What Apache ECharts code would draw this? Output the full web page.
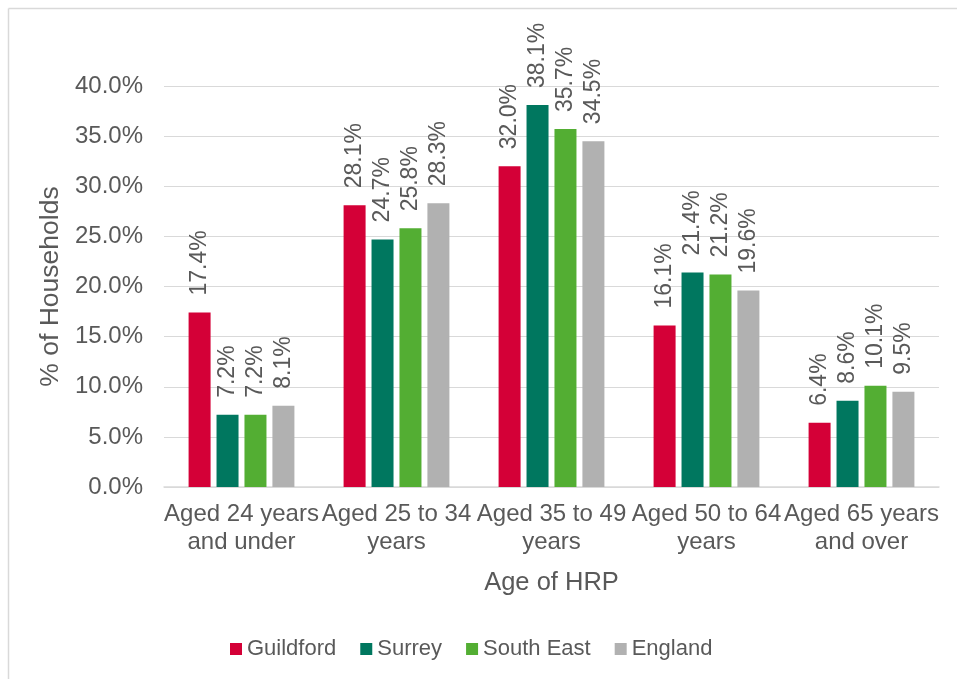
<!DOCTYPE html>
<html>
<head>
<meta charset="utf-8">
<script src="https://cdn.jsdelivr.net/npm/echarts@6/dist/echarts.min.js"></script>
<style>
html,body{margin:0;padding:0;background:#fff;}
#c{width:957px;height:679px;}
</style>
</head>
<body>
<div id="c"></div>
<script>
var categories = ['Aged 24 years\nand under', 'Aged 25 to 34\nyears', 'Aged 35 to 49\nyears', 'Aged 50 to 64\nyears', 'Aged 65 years\nand over'];
var seriesNames = ['Guildford', 'Surrey', 'South East', 'England'];
var guildford = [17.4, 28.1, 32.0, 16.1, 6.4];
var surrey = [7.2, 24.7, 38.1, 21.4, 8.6];
var southEast = [7.2, 25.8, 35.7, 21.2, 10.1];
var england = [8.1, 28.3, 34.5, 19.6, 9.5];
var yTicks = [0, 5, 10, 15, 20, 25, 30, 35, 40];

var colors = ['#D40037', '#00775F', '#53AE33', '#B1B1B1'];
var values = [guildford, surrey, southEast, england];
var textColor = '#595959';
var font = 'Liberation Sans, Arial, sans-serif';

var chart = echarts.init(document.getElementById('c'), null, {renderer: 'canvas'});
chart.setOption({
  animation: false,
  backgroundColor: '#fff',
  color: colors,
  textStyle: {fontFamily: font, color: textColor},
  graphic: [
    {type: 'line', shape: {x1: 8.5, y1: 8.5, x2: 8.5, y2: 679}, style: {stroke: '#D9D9D9', lineWidth: 1.5}},
    {type: 'line', shape: {x1: 8.5, y1: 8.5, x2: 957, y2: 8.5}, style: {stroke: '#D9D9D9', lineWidth: 1.5}}
  ],
  grid: {left: 164, right: 18, top: 86, bottom: 192, containLabel: false},
  legend: {
    data: seriesNames,
    left: 225, top: 633,
    itemWidth: 12, itemHeight: 12, itemGap: 24,
    icon: 'rect',
    textStyle: {fontFamily: font, fontSize: 22, color: textColor}
  },
  xAxis: {
    type: 'category',
    data: categories,
    name: 'Age of HRP',
    nameLocation: 'middle',
    nameGap: 83,
    nameTextStyle: {fontFamily: font, fontSize: 25.5, color: textColor},
    axisLine: {lineStyle: {color: '#D9D9D9', width: 1.5}},
    axisTick: {show: false},
    axisLabel: {interval: 0, fontFamily: font, fontSize: 24, color: textColor, lineHeight: 28, margin: 13}
  },
  yAxis: {
    type: 'value',
    min: yTicks[0], max: yTicks[yTicks.length - 1], interval: 5,
    name: '% of Households',
    nameLocation: 'middle',
    nameGap: 98,
    nameTextStyle: {fontFamily: font, fontSize: 26.5, color: textColor},
    axisLine: {show: false},
    axisTick: {show: false},
    splitLine: {lineStyle: {color: '#D9D9D9', width: 1.2}},
    axisLabel: {fontFamily: font, fontSize: 24, color: textColor, margin: 21,
      formatter: function (v) { return v.toFixed(1) + '%'; }}
  },
  series: seriesNames.map(function (n, i) {
    return {
      name: n,
      type: 'bar',
      data: values[i],
      barWidth: 22,
      barGap: '27%',
      itemStyle: {color: colors[i]},
      label: {
        show: true,
        position: 'top',
        rotate: 90,
        align: 'left',
        verticalAlign: 'middle',
        distance: 17,
        fontFamily: font,
        fontSize: 23,
        color: textColor,
        formatter: function (p) { return p.value.toFixed(1) + '%'; }
      }
    };
  })
});
</script>
</body>
</html>
